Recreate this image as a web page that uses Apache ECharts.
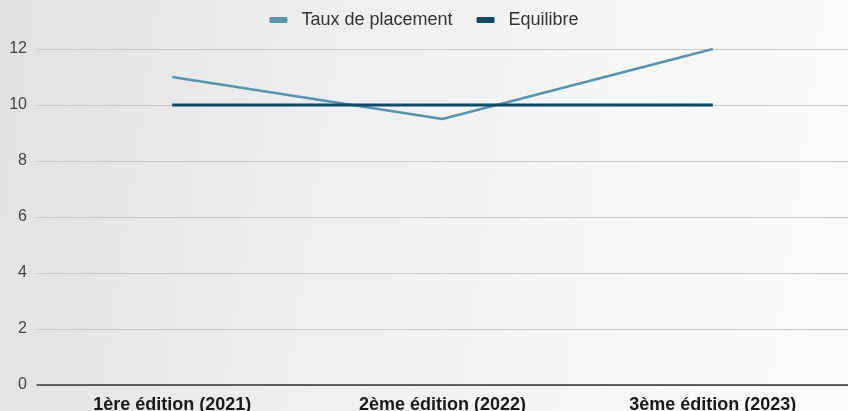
<!DOCTYPE html>
<html>
<head>
<meta charset="utf-8">
<script src="https://cdn.jsdelivr.net/npm/echarts@6/dist/echarts.min.js"></script>
<style>
html,body{margin:0;padding:0;}
#c{width:848px;height:411px;}
</style>
</head>
<body>
<div id="c"></div>
<script>
const categories = ['1ère édition (2021)', '2ème édition (2022)', '3ème édition (2023)'];
const tauxPlacement = [11, 9.5, 12];
const equilibre = [10, 10, 10];
const seriesNames = ['Taux de placement', 'Equilibre'];

const chart = echarts.init(document.getElementById('c'));
chart.setOption({
  backgroundColor: {
    type: 'linear', x: 0, y: 0, x2: 1, y2: 0.3,
    colorStops: [
      {offset: 0, color: '#dfe1e3'},
      {offset: 0.45, color: '#eff0f1'},
      {offset: 1, color: '#fbfbfb'}
    ]
  },
  textStyle: {fontFamily: 'Liberation Sans, Arial, sans-serif'},
  legend: {
    top: 6,
    left: 'center',
    icon: 'roundRect',
    itemWidth: 18,
    itemHeight: 6,
    itemGap: 24,
    textStyle: {fontSize: 18, color: '#333', padding: [0, 0, 0, 9]},
    data: seriesNames
  },
  grid: {left: 37, right: 0, top: 49, bottom: 26, containLabel: false, outerBoundsMode: 'none'},
  xAxis: {
    type: 'category',
    data: categories,
    boundaryGap: true,
    axisLine: {lineStyle: {color: '#333', width: 1.5}},
    axisTick: {show: false},
    axisLabel: {fontSize: 18, fontWeight: 'bold', color: '#1a1a1a', margin: 11}
  },
  yAxis: {
    type: 'value',
    min: 0, max: 12, interval: 2,
    axisLine: {show: false},
    axisTick: {show: false},
    splitLine: {lineStyle: {color: '#c8c8c8', width: 1}},
    axisLabel: {fontSize: 16, color: '#444', margin: 10}
  },
  series: [
    {
      name: seriesNames[0], type: 'line', data: tauxPlacement,
      symbol: 'none', itemStyle: {color: '#5a93ae'},
      lineStyle: {color: '#5a93ae', width: 2.5}
    },
    {
      name: seriesNames[1], type: 'line', data: equilibre,
      symbol: 'none', itemStyle: {color: '#0e4a62'},
      lineStyle: {color: '#0e4a62', width: 3}
    }
  ]
});
</script>
</body>
</html>
